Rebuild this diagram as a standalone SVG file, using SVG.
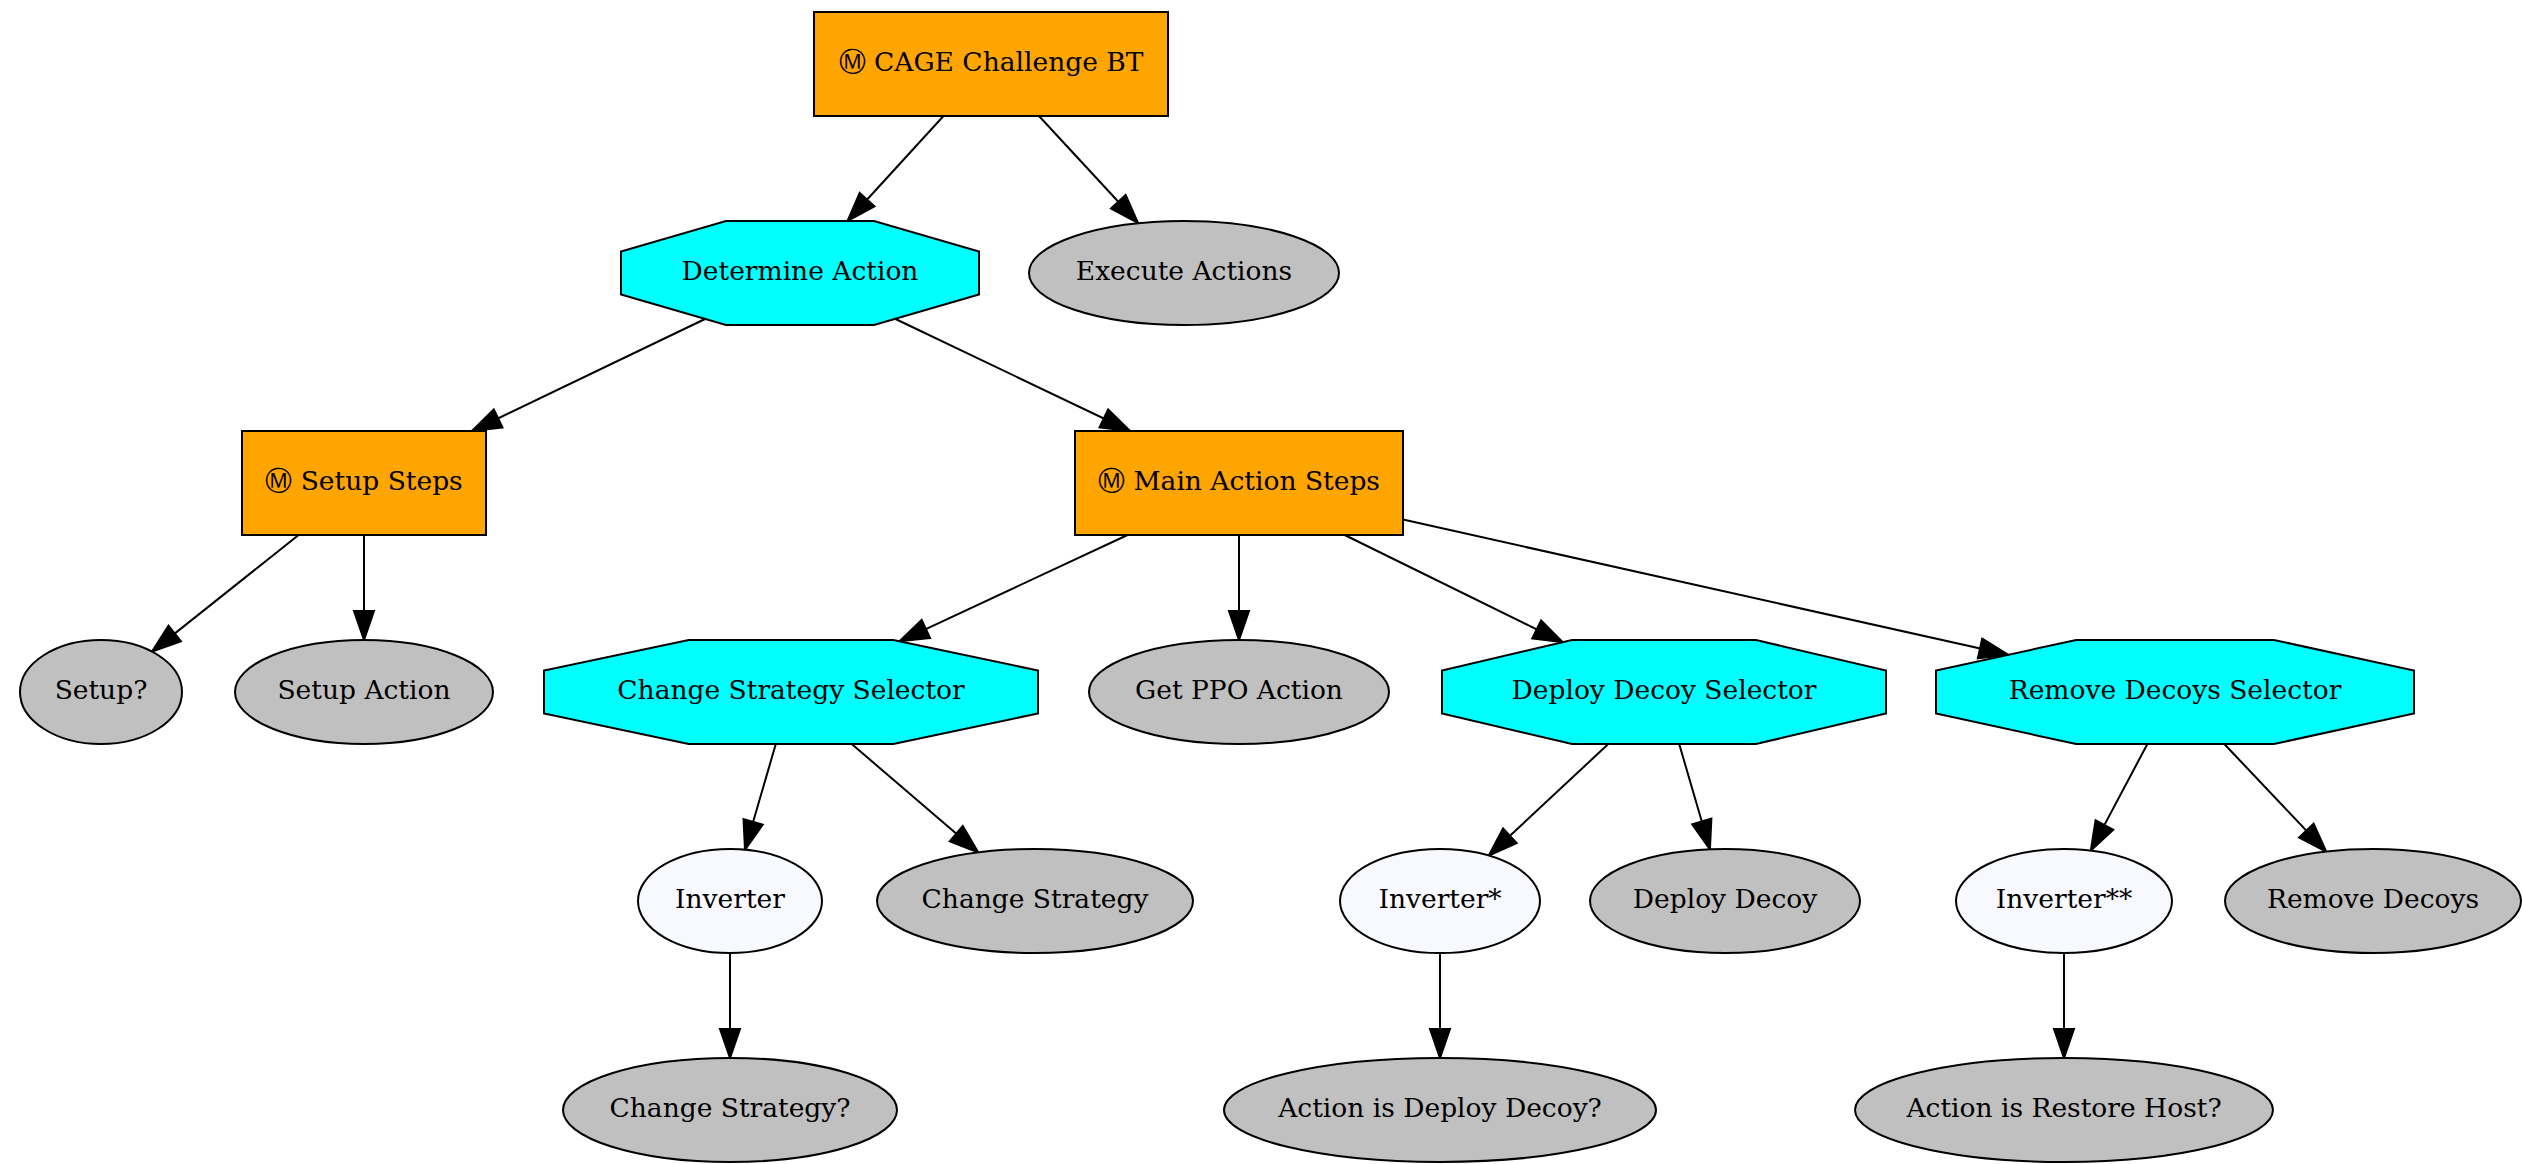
<svg xmlns="http://www.w3.org/2000/svg" width="2523" height="1164" viewBox="0 0 2523 1164">
  <style>
    .shape { stroke: #000; stroke-width: 2; }
    .seq { fill: #ffa500; }
    .sel { fill: #00ffff; }
    .leaf { fill: #c0c0c0; }
    .inv { fill: #f8f8ff; }
    text { font-family: "DejaVu Serif", "Liberation Serif", serif; font-size: 26.5px; fill: #000; text-anchor: middle; dominant-baseline: central; }
    .edge { stroke: #000; stroke-width: 2; fill: none; marker-end: url(#arrow); }
  </style>
  <defs>
    <marker id="arrow" markerUnits="userSpaceOnUse" viewBox="-2 -2 33 24" markerWidth="33" markerHeight="24" refX="29" refY="10" orient="auto">
      <path d="M0,0 L29,10 L0,20 Z" fill="#000" stroke="#000" stroke-width="2"/>
    </marker>
  </defs>
  <rect width="2523" height="1164" fill="#fff"/>

  <!-- connectors: straight centre-to-centre lines clipped at node borders -->
  <g id="edges">
    <line class="edge" x1="943.5" y1="116" x2="847.5" y2="221"/>
    <line class="edge" x1="1039" y1="116" x2="1138" y2="223"/>
    <line class="edge" x1="705" y1="319" x2="472" y2="431"/>
    <line class="edge" x1="895.5" y1="319" x2="1130" y2="431"/>
    <line class="edge" x1="298.6" y1="535" x2="152" y2="651.6"/>
    <line class="edge" x1="364" y1="535" x2="364" y2="640"/>
    <line class="edge" x1="1127.5" y1="535" x2="899.6" y2="641.3"/>
    <line class="edge" x1="1239" y1="535" x2="1239" y2="640"/>
    <line class="edge" x1="1344.7" y1="535" x2="1562.7" y2="642.2"/>
    <line class="edge" x1="1403" y1="519.6" x2="2008.3" y2="654.8"/>
    <line class="edge" x1="775.8" y1="744" x2="745" y2="849.7"/>
    <line class="edge" x1="851.7" y1="744" x2="978.3" y2="852.5"/>
    <line class="edge" x1="1608.3" y1="744" x2="1488.7" y2="855.6"/>
    <line class="edge" x1="1679.2" y1="744" x2="1709.9" y2="849.3"/>
    <line class="edge" x1="2147.4" y1="744" x2="2090.8" y2="850.6"/>
    <line class="edge" x1="2224.3" y1="744" x2="2326.3" y2="851.7"/>
    <line class="edge" x1="730" y1="953" x2="730" y2="1058"/>
    <line class="edge" x1="1440" y1="953" x2="1440" y2="1058"/>
    <line class="edge" x1="2064" y1="953" x2="2064" y2="1058"/>
  </g>

  <g id="cage_challenge_bt">
    <rect class="shape seq" x="814" y="12" width="354" height="104"/>
    <text x="991" y="61">Ⓜ CAGE Challenge BT</text>
  </g>
  <g id="determine_action">
    <polygon class="shape sel" points="726,221 874,221 979,251.5 979,294.5 874,325 726,325 621,294.5 621,251.5"/>
    <text x="800" y="270">Determine Action</text>
  </g>
  <g id="execute_actions">
    <ellipse class="shape leaf" cx="1184" cy="273" rx="155" ry="52"/>
    <text x="1184" y="270">Execute Actions</text>
  </g>
  <g id="setup_steps">
    <rect class="shape seq" x="242" y="431" width="244" height="104"/>
    <text x="364" y="480">Ⓜ Setup Steps</text>
  </g>
  <g id="main_action_steps">
    <rect class="shape seq" x="1075" y="431" width="328" height="104"/>
    <text x="1239" y="480">Ⓜ Main Action Steps</text>
  </g>
  <g id="setup_check">
    <ellipse class="shape leaf" cx="101" cy="692" rx="81" ry="52"/>
    <text x="101" y="689">Setup?</text>
  </g>
  <g id="setup_action">
    <ellipse class="shape leaf" cx="364" cy="692" rx="129" ry="52"/>
    <text x="364" y="689">Setup Action</text>
  </g>
  <g id="change_strategy_selector">
    <polygon class="shape sel" points="688.7,640 893.3,640 1038,670.5 1038,713.5 893.3,744 688.7,744 544,713.5 544,670.5"/>
    <text x="791" y="689">Change Strategy Selector</text>
  </g>
  <g id="get_ppo_action">
    <ellipse class="shape leaf" cx="1239" cy="692" rx="150" ry="52"/>
    <text x="1239" y="689">Get PPO Action</text>
  </g>
  <g id="deploy_decoy_selector">
    <polygon class="shape sel" points="1572.1,640 1755.9,640 1886,670.5 1886,713.5 1755.9,744 1572.1,744 1442,713.5 1442,670.5"/>
    <text x="1664" y="689">Deploy Decoy Selector</text>
  </g>
  <g id="remove_decoys_selector">
    <polygon class="shape sel" points="2076.1,640 2273.9,640 2414,670.5 2414,713.5 2273.9,744 2076.1,744 1936,713.5 1936,670.5"/>
    <text x="2175" y="689">Remove Decoys Selector</text>
  </g>
  <g id="inverter">
    <ellipse class="shape inv" cx="730" cy="901" rx="92" ry="52"/>
    <text x="730" y="898">Inverter</text>
  </g>
  <g id="change_strategy">
    <ellipse class="shape leaf" cx="1035" cy="901" rx="158" ry="52"/>
    <text x="1035" y="898">Change Strategy</text>
  </g>
  <g id="inverter_1">
    <ellipse class="shape inv" cx="1440" cy="901" rx="100" ry="52"/>
    <text x="1440" y="898">Inverter*</text>
  </g>
  <g id="deploy_decoy">
    <ellipse class="shape leaf" cx="1725" cy="901" rx="135" ry="52"/>
    <text x="1725" y="898">Deploy Decoy</text>
  </g>
  <g id="inverter_2">
    <ellipse class="shape inv" cx="2064" cy="901" rx="108" ry="52"/>
    <text x="2064" y="898">Inverter**</text>
  </g>
  <g id="remove_decoys">
    <ellipse class="shape leaf" cx="2373" cy="901" rx="148" ry="52"/>
    <text x="2373" y="898">Remove Decoys</text>
  </g>
  <g id="change_strategy_check">
    <ellipse class="shape leaf" cx="730" cy="1110" rx="167" ry="52"/>
    <text x="730" y="1107">Change Strategy?</text>
  </g>
  <g id="action_is_deploy_decoy">
    <ellipse class="shape leaf" cx="1440" cy="1110" rx="216" ry="52"/>
    <text x="1440" y="1107">Action is Deploy Decoy?</text>
  </g>
  <g id="action_is_restore_host">
    <ellipse class="shape leaf" cx="2064" cy="1110" rx="209" ry="52"/>
    <text x="2064" y="1107">Action is Restore Host?</text>
  </g>
</svg>
